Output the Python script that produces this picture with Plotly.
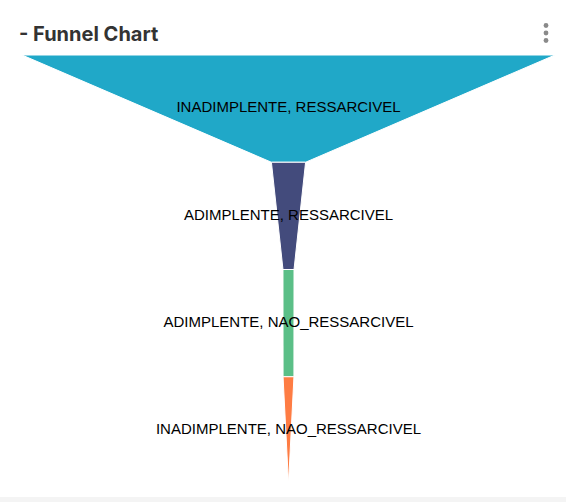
import plotly.graph_objects as go

# ---- data ----
categories = ["INADIMPLENTE, RESSARCIVEL", "ADIMPLENTE, RESSARCIVEL",
              "ADIMPLENTE, NAO_RESSARCIVEL", "INADIMPLENTE, NAO_RESSARCIVEL"]
values = [15200, 975, 315, 310]
colors = ["#20a8c8", "#434b7c", "#5bbf87", "#fe7c43"]

W, H = 566, 502
L, R, T, B = 22, 11, 55, 18
plot_w = W - L - R
plot_h = H - T - B

vmax = max(values)
n = len(values)

fig = go.Figure()
for i, (cat, v, c) in enumerate(zip(categories, values, colors)):
    nxt = values[i + 1] if i + 1 < n else 0
    y_top = n - i
    y_bot = n - i - 1
    xs = [-v / 2, v / 2, nxt / 2, -nxt / 2, -v / 2]
    ys = [y_top, y_top, y_bot, y_bot, y_top]
    fig.add_trace(go.Scatter(x=xs, y=ys, fill="toself", fillcolor=c, mode="lines",
                             line=dict(color="white", width=1), name=cat,
                             hoverinfo="text", text=f"{cat}: {v}", showlegend=False))

fig.add_trace(go.Scatter(
    x=[0] * n, y=[n - i - 0.5 for i in range(n)], mode="text", text=categories,
    textfont=dict(family="Liberation Sans, Arial", size=15, color="#000"),
    hoverinfo="skip", showlegend=False))

def px(xp):
    return (xp - L) / plot_w

def py(yp):
    return (H - B - yp) / plot_h

shapes = [
    # card background
    dict(type="rect", xref="paper", yref="paper", x0=px(0), x1=px(W + 5), y0=py(497), y1=py(-5),
         fillcolor="white", line=dict(width=0), layer="below"),
]
for yy in (25.5, 33, 40.5):
    shapes.append(dict(type="circle", xref="paper", yref="paper",
                       x0=px(543.6), x1=px(548.4), y0=py(yy + 2.4), y1=py(yy - 2.4),
                       fillcolor="#8a8a8a", line=dict(width=0)))

fig.update_layout(
    width=W, height=H,
    margin=dict(l=L, r=R, t=T, b=B),
    paper_bgcolor="#f4f4f4", plot_bgcolor="rgba(0,0,0,0)",
    xaxis=dict(visible=False, range=[-vmax / 2, vmax / 2], fixedrange=True),
    yaxis=dict(visible=False, range=[0, n], fixedrange=True),
    shapes=shapes,
    title=dict(text="- Funnel Chart", xref="container", yref="container",
               x=19 / W, xanchor="left", y=1 - 34 / H, yanchor="middle",
               font=dict(family="Inter", size=20, weight=700, color="#333")),
)

fig.write_html("out.html", config={"displayModeBar": False},
               post_script="document.body.style.margin='0';document.documentElement.style.overflow='hidden';")
